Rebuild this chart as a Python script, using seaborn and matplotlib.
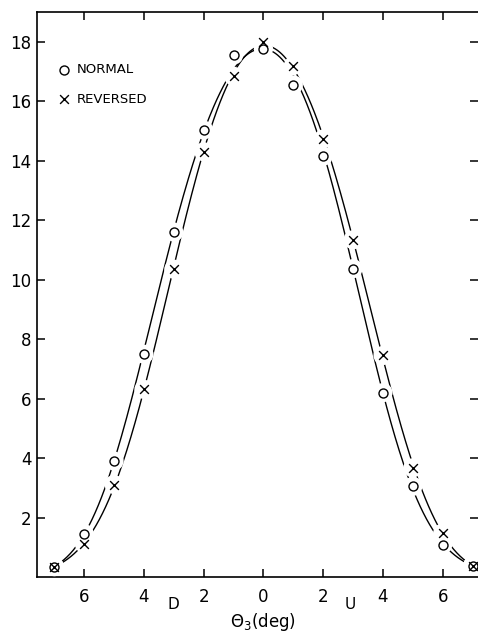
import numpy as np
import pandas as pd
import matplotlib
matplotlib.use("Agg")
import matplotlib.pyplot as plt
import seaborn as sns

# ------------------------------------------------------------------
# data (angle in deg, D side negative, U side positive)
# ------------------------------------------------------------------
theta = [-7, -6, -5, -4, -3, -2, -1, 0, 1, 2, 3, 4, 5, 6, 7]
normal = [0.35, 1.46, 3.90, 7.49, 11.60, 15.03, 17.55, 17.76,
          16.55, 14.15, 10.37, 6.20, 3.05, 1.09, 0.38]
reversed_ = [0.35, 1.12, 3.11, 6.31, 10.35, 14.30, 16.84, 18.00,
             17.20, 14.73, 11.34, 7.45, 3.67, 1.48, 0.38]

xticks = [-6, -4, -2, 0, 2, 4, 6]
xtick_labels = ["6", "4", "2", "0", "2", "4", "6"]
yticks = [2, 4, 6, 8, 10, 12, 14, 16, 18]

df = pd.DataFrame({"theta": theta, "NORMAL": normal, "REVERSED": reversed_})

sns.set_style("ticks")
plt.rcParams["font.family"] = ["DejaVu Sans"]
plt.rcParams["text.color"] = "black"
plt.rcParams["xtick.color"] = "black"
plt.rcParams["ytick.color"] = "black"
plt.rcParams["axes.edgecolor"] = "black"

fig = plt.figure(figsize=(4.78, 6.39), dpi=100)
ax = fig.add_axes([37 / 478, 62 / 639, 441 / 478, 565 / 639])

# smooth curve for each series: 6th order fit of log(y)
xs = np.linspace(-7, 7, 400)
for col in ["NORMAL", "REVERSED"]:
    coef = np.polyfit(df["theta"], np.log(df[col]), 6)
    fit = pd.DataFrame({"theta": xs, "y": np.exp(np.polyval(coef, xs))})
    sns.lineplot(data=fit, x="theta", y="y", ax=ax, color="black",
                 lw=1.0, zorder=2)

# white halos so the curves break around the markers, like the drawing
for col in ["NORMAL", "REVERSED"]:
    sns.scatterplot(data=df, x="theta", y=col, ax=ax, marker="o", s=190,
                    color="white", edgecolor="none", zorder=3, legend=False)

sns.scatterplot(data=df, x="theta", y="NORMAL", ax=ax, marker="o", s=42,
                facecolor="white", edgecolor="black", linewidth=1.0,
                zorder=4, label="NORMAL")
sns.scatterplot(data=df, x="theta", y="REVERSED", ax=ax, marker="x", s=40,
                color="black", linewidth=1.0, zorder=5, label="REVERSED")

ax.set_xlim(-7.58, 7.18)
ax.set_ylim(0, 19)
ax.set_xticks(xticks)
ax.set_xticklabels(xtick_labels)
ax.set_yticks(yticks)
ax.set_xlabel("")
ax.set_ylabel("")

ax.spines["right"].set_visible(False)
for s in ["left", "bottom", "top"]:
    ax.spines[s].set_linewidth(1.2)
ax.tick_params(direction="in", length=6, width=1.1, top=True, right=True,
               labelsize=12, pad=4)
ax.tick_params(axis="x", pad=8)

leg = ax.legend(loc="upper left", bbox_to_anchor=(0.02, 0.93), frameon=False,
                fontsize=9.5, handletextpad=0.45, labelspacing=1.25,
                handlelength=1.0)

tr = ax.get_xaxis_transform()
ax.text(-3, -0.048, "D", transform=tr, ha="center", va="center", fontsize=11)
ax.text(2.9, -0.048, "U", transform=tr, ha="center", va="center", fontsize=11)
ax.text(0, -0.08, r"$\Theta_3$(deg)", transform=tr, ha="center",
        va="center", fontsize=12)

fig.savefig("out.png", dpi=100)
